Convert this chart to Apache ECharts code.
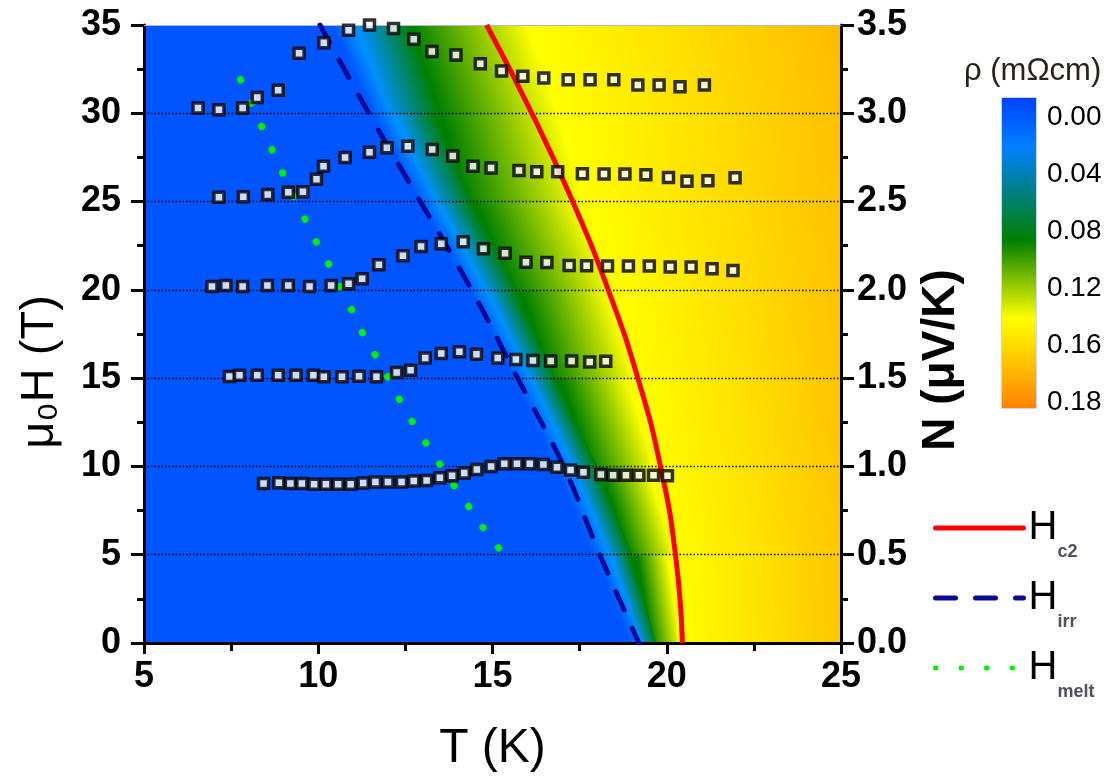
<!DOCTYPE html>
<html><head><meta charset="utf-8">
<script src="https://cdn.jsdelivr.net/npm/echarts@6/dist/echarts.min.js"></script>
<style>html,body{margin:0;padding:0;background:#fff}#chart{width:1114px;height:778px}</style>
</head><body><div id="chart"></div>
<script>
// ---------- resistivity colour map: iso-resistivity temperatures per field row ----------
const fieldRows     = [0, 5, 10, 15, 20, 25, 30, 35];            // μ0H (T)
const rhoIsoLevels  = [0.0, 0.02, 0.08, 0.13];                  // ρ (mΩcm)
const isoT_rho000   = [19.0, 17.9, 16.8, 15.6, 14.3, 12.9, 11.55, 10.4];
const isoT_rho002   = [19.3, 18.35, 17.3, 16.1, 14.8, 13.4, 12.1, 11.0];
const isoT_rho008   = [19.7, 19.0, 18.0, 16.8, 15.7, 14.4, 13.4, 12.75];
const isoT_rho013   = [20.3, 20.15, 19.55, 19.0, 18.4, 17.5, 17.0, 15.9];
const rhoAtT25      = [0.157, 0.157, 0.157, 0.158, 0.158, 0.159, 0.160, 0.162];

// colour scale (ρ -> colour) and colour bar
const colorScaleRho = [0, 0.02, 0.08, 0.13, 0.16, 0.18];
const colorScaleHex = ['#0055ff', '#0090ff', '#008000', '#ffff00', '#ffc000', '#ff8000'];
const colorbarTickLabels = ['0.00', '0.04', '0.08', '0.12', '0.16', '0.18'];
const colorbarOffsets = [0, 0.16, 0.46, 0.71, 0.86, 1];
const colorbarHex = ['#0040ff', '#0080ff', '#008000', '#ffff00', '#ffc000', '#ff8000'];

// ---------- critical field lines (T, μ0H) ----------
const hc2Curve   = [[14.83, 35], [16.13, 30], [17.3, 25], [18.32, 20], [19.17, 15], [19.82, 10], [20.25, 5], [20.45, 0]];
const hirrCurve  = [[10.05, 35], [11.45, 30], [12.87, 25.2], [14.4, 20], [15.72, 15], [17.04, 10], [18.08, 5], [19.2, 0]];
const hmeltCurve = [[7.77, 31.9], [8.07, 30.6], [8.39, 29.2], [8.68, 27.9], [9.03, 26.4], [9.34, 25.1], [9.67, 23.8],
                    [10.0, 22.5], [10.37, 21.2], [10.73, 19.8], [11.07, 18.4], [11.41, 17.0], [11.8, 15.8], [12.19, 14.3],
                    [12.6, 12.85], [13.0, 11.6], [13.43, 10.3], [13.9, 8.9], [14.4, 7.5], [14.85, 6.2], [15.37, 4.9]];

// ---------- Nernst signal N (μV/K) vs T (K) ----------
const tempRow1 = [8.43,8.87,9.20,9.53,9.88,10.22,10.57,10.93,11.29,11.64,12.0,12.39,12.74,13.11,13.49,13.84,14.19,14.55,14.96,15.34,15.70,16.07,16.46,16.85,17.24,17.61,18.11,18.46,18.83,19.2,19.62,20.02];
const nRow1    = [0.903,0.908,0.903,0.903,0.899,0.899,0.899,0.899,0.906,0.912,0.912,0.912,0.917,0.921,0.936,0.947,0.963,0.983,1.0,1.015,1.015,1.015,1.011,0.996,0.980,0.967,0.954,0.950,0.950,0.950,0.950,0.947];
const tempRow2 = [7.45,7.74,8.25,8.85,9.36,9.86,10.16,10.68,11.17,11.67,12.25,12.65,13.07,13.53,14.05,14.54,15.15,15.67,16.16,16.67,17.27,17.79,18.25];
const nRow2    = [1.509,1.517,1.517,1.517,1.517,1.517,1.508,1.508,1.511,1.508,1.532,1.545,1.614,1.640,1.650,1.636,1.614,1.606,1.600,1.597,1.597,1.591,1.595];
const tempRow3 = [6.95,7.35,7.83,8.54,9.14,9.75,10.37,10.87,11.26,11.74,12.43,12.95,13.53,14.16,14.74,15.36,15.96,16.56,17.2,17.7,18.3,18.9,19.5,20.1,20.7,21.3,21.9];
const nRow3    = [2.019,2.025,2.019,2.025,2.025,2.019,2.025,2.034,2.063,2.142,2.193,2.246,2.261,2.273,2.233,2.208,2.157,2.155,2.138,2.137,2.135,2.135,2.135,2.13,2.13,2.12,2.11];
const tempRow4 = [7.15,7.85,8.55,9.14,9.56,9.95,10.15,10.77,11.47,11.97,12.57,13.27,13.86,14.44,14.96,15.76,16.27,16.87,17.58,18.2,18.8,19.4,20.05,20.58,21.18,21.96];
const nRow4    = [2.525,2.527,2.54,2.553,2.555,2.627,2.70,2.75,2.78,2.805,2.814,2.795,2.758,2.70,2.69,2.676,2.669,2.669,2.658,2.656,2.656,2.652,2.637,2.615,2.618,2.635];
const tempRow5 = [6.55,7.15,7.83,8.25,8.85,9.45,10.16,10.87,11.47,12.16,12.74,13.26,13.95,14.65,15.26,15.87,16.47,17.17,17.8,18.48,19.17,19.78,20.38,21.08];
const nRow5    = [3.03,3.02,3.03,3.09,3.13,3.34,3.40,3.47,3.50,3.48,3.42,3.35,3.33,3.28,3.24,3.21,3.20,3.19,3.19,3.19,3.16,3.16,3.15,3.16];

const xTicks = {min: 5, max: 25, interval: 5};
const yTicks = {min: 0, max: 35, interval: 5};
const nTicks = {min: 0, max: 3.5, interval: 0.5};

// ---------- helpers ----------
function hexToRgb(h) { const v = parseInt(h.slice(1), 16); return [(v >> 16) & 255, (v >> 8) & 255, v & 255]; }
function rhoColor(r) {
  let i = 0;
  while (i < colorScaleRho.length - 2 && r > colorScaleRho[i + 1]) i++;
  const t = Math.max(0, Math.min(1, (r - colorScaleRho[i]) / (colorScaleRho[i + 1] - colorScaleRho[i])));
  const a = hexToRgb(colorScaleHex[i]), b = hexToRgb(colorScaleHex[i + 1]);
  return 'rgb(' + a.map((c, k) => Math.round(c + (b[k] - c) * t)).join(',') + ')';
}
const isoLines = [isoT_rho000, isoT_rho002, isoT_rho008, isoT_rho013];
const fieldItems = [[0, -1]];
for (let k = 0; k < isoLines.length; k++) for (let j = 0; j < fieldRows.length - 1; j++) fieldItems.push([j, k]);

function renderField(params, api) {
  const j = api.value(0), k = api.value(1);
  if (k < 0) {
    const a = api.coord([xTicks.min, yTicks.min]), b = api.coord([xTicks.max, yTicks.max]);
    return {type: 'rect', shape: {x: a[0], y: b[1], width: b[0] - a[0], height: a[1] - b[1]}, style: {fill: rhoColor(rhoIsoLevels[0])}};
  }
  const h0 = fieldRows[j], h1 = fieldRows[j + 1];
  const A = api.coord([isoLines[k][j], h0]), B = api.coord([isoLines[k][j + 1], h1]);
  let C, D, rhoEnd;
  if (k + 1 < isoLines.length) {
    C = api.coord([isoLines[k + 1][j], h0]); D = api.coord([isoLines[k + 1][j + 1], h1]); rhoEnd = rhoIsoLevels[k + 1];
  } else {
    C = api.coord([xTicks.max, h0]); D = api.coord([xTicks.max, h1]); rhoEnd = (rhoAtT25[j] + rhoAtT25[j + 1]) / 2;
  }
  const E = api.coord([xTicks.max, h0]), F = api.coord([xTicks.max, h1]);
  let ux = B[0] - A[0], uy = B[1] - A[1]; const lu = Math.hypot(ux, uy); ux /= lu; uy /= lu;
  let vx = D[0] - C[0], vy = D[1] - C[1]; const lv = Math.hypot(vx, vy); vx /= lv; vy /= lv;
  let wx = ux + vx, wy = uy + vy; const lw = Math.hypot(wx, wy); wx /= lw; wy /= lw;
  let nx = -wy, ny = wx;
  const PL = [(A[0] + B[0]) / 2, (A[1] + B[1]) / 2], PR = [(C[0] + D[0]) / 2, (C[1] + D[1]) / 2];
  let d = (PR[0] - PL[0]) * nx + (PR[1] - PL[1]) * ny;
  if (d < 0) { nx = -nx; ny = -ny; d = -d; }
  d = Math.max(d, 1);
  const ov = 1.2;
  const pts = [[A[0] - ux * ov, A[1] - uy * ov], [B[0] + ux * ov, B[1] + uy * ov], [F[0] + 1, F[1] - ov], [E[0] + 1, E[1] + ov]];
  const grad = new echarts.graphic.LinearGradient(PL[0], PL[1], PL[0] + nx * d, PL[1] + ny * d,
    [{offset: 0, color: rhoColor(rhoIsoLevels[k])}, {offset: 1, color: rhoColor(rhoEnd)}], true);
  return {type: 'polygon', shape: {points: pts}, style: {fill: grad}};
}

const zip = (xs, ys) => xs.map((x, i) => [x, ys[i]]);
const nRows = [[tempRow1, nRow1], [tempRow2, nRow2], [tempRow3, nRow3], [tempRow4, nRow4], [tempRow5, nRow5]];

const FONT = "'Liberation Sans', Arial, sans-serif";
const axisLineStyle = {color: '#000', width: 3};
const tickStyle = {width: 3, color: '#000'};
const legendText = {Hc2: '{h|H}{s|c2}', Hirr: '{h|H}{s|irr}', Hmelt: '{h|H}{s|melt}'};

const chart = echarts.init(document.getElementById('chart'), null, {renderer: 'canvas'});
const option = {
  animation: false,
  backgroundColor: '#fff',
  textStyle: {fontFamily: FONT},
  title: {text: 'ρ (mΩcm)', left: 964, top: 56, padding: 0,
    textStyle: {fontSize: 31, fontWeight: 'normal', color: '#2a2218', fontFamily: FONT}},
  legend: {
    data: ['Hc2', 'Hirr', 'Hmelt'], orient: 'vertical', left: 933, top: 508,
    itemWidth: 88, itemHeight: 14, itemGap: 17, selectedMode: false, padding: 0,
    itemStyle: {opacity: 0},
    lineStyle: {width: 5, cap: 'round'},
    formatter: name => legendText[name],
    textStyle: {rich: {
      h: {fontSize: 40, color: '#000', fontFamily: FONT, lineHeight: 38, verticalAlign: 'middle'},
      s: {fontSize: 18, color: '#505060', fontWeight: 'bold', fontFamily: FONT, lineHeight: 20, verticalAlign: 'bottom', padding: [0, 0, -14, 0]}
    }}
  },
  grid: [
    {left: 144, top: 25, width: 697, height: 618, outerBoundsMode: 'none'},
    {left: 1001, top: 97, width: 36, height: 312, outerBoundsMode: 'none'},
    {left: 1001, top: 117, width: 36, height: 285, outerBoundsMode: 'none'}
  ],
  xAxis: [
    {gridIndex: 0, type: 'value', min: xTicks.min, max: xTicks.max, interval: xTicks.interval, position: 'bottom', z: 2,
      axisLine: {show: true, onZero: false, lineStyle: axisLineStyle},
      axisTick: {show: true, inside: false, length: 11, lineStyle: tickStyle},
      minorTick: {show: true, splitNumber: 2, length: 8, lineStyle: tickStyle},
      axisLabel: {fontSize: 36, fontWeight: 'bold', color: '#000', margin: 16, fontFamily: FONT},
      splitLine: {show: false},
      name: 'T (K)', nameLocation: 'middle', nameGap: 82,
      nameTextStyle: {fontSize: 48, color: '#000', fontFamily: FONT}},
    {gridIndex: 0, type: 'value', min: xTicks.min, max: xTicks.max, position: 'top', z: 2,
      axisLine: {show: true, onZero: false, lineStyle: {color: '#b8b8b8', width: 1}},
      axisTick: {show: false}, axisLabel: {show: false}, splitLine: {show: false}},
    {gridIndex: 1, type: 'category', data: ['ρ'], show: false},
    {gridIndex: 2, type: 'value', show: false}
  ],
  yAxis: [
    {gridIndex: 0, type: 'value', min: yTicks.min, max: yTicks.max, interval: yTicks.interval, position: 'left', z: 2,
      axisLine: {show: true, onZero: false, lineStyle: axisLineStyle},
      axisTick: {show: true, inside: false, length: 13, lineStyle: tickStyle},
      minorTick: {show: true, splitNumber: 2, length: 7, lineStyle: tickStyle},
      axisLabel: {fontSize: 36, fontWeight: 'bold', color: '#000', margin: 23, fontFamily: FONT},
      splitLine: {show: true, showMinLine: false, showMaxLine: false, lineStyle: {color: '#000', width: 1.4, type: [1.5, 2]}},
      name: 'μ₀H (T)', nameLocation: 'middle', nameGap: 80, nameRotate: 90,
      nameTextStyle: {fontSize: 47, color: '#000', fontFamily: FONT, padding: [0, 76, 0, 0]}},
    {gridIndex: 0, type: 'value', min: nTicks.min, max: nTicks.max, interval: nTicks.interval, position: 'right', z: 2,
      axisLine: {show: true, onZero: false, lineStyle: axisLineStyle},
      axisTick: {show: true, inside: false, length: 13, lineStyle: tickStyle},
      minorTick: {show: true, splitNumber: 2, length: 7, lineStyle: tickStyle},
      axisLabel: {fontSize: 36, fontWeight: 'bold', color: '#000', margin: 16, fontFamily: FONT, formatter: v => v.toFixed(1)},
      splitLine: {show: false},
      name: 'N (μV/K)', nameLocation: 'middle', nameGap: 70, nameRotate: 90,
      nameTextStyle: {fontSize: 46, fontWeight: 'bold', color: '#000', fontFamily: FONT, padding: [0, 52, 0, 0]}},
    {gridIndex: 1, type: 'value', min: 0, max: 1, show: false},
    {gridIndex: 2, type: 'category', data: colorbarTickLabels, inverse: true, boundaryGap: false, position: 'right',
      axisLine: {show: false}, axisTick: {show: false}, splitLine: {show: false},
      axisLabel: {fontSize: 28, color: '#000', margin: 10, fontFamily: FONT}}
  ],
  series: [
    {type: 'custom', name: 'rho', xAxisIndex: 0, yAxisIndex: 0, renderItem: renderField, data: fieldItems,
      clip: true, silent: true, z: 1},
    {type: 'bar', name: 'colorbar', xAxisIndex: 2, yAxisIndex: 2, data: [1], barWidth: '100%', silent: true, z: 1,
      itemStyle: {borderColor: '#c8d8f0', borderWidth: 1,
        color: new echarts.graphic.LinearGradient(0, 0, 0, 1, colorbarOffsets.map((o, i) => ({offset: o, color: colorbarHex[i]})))}},
    {type: 'scatter', name: 'cbLabels', xAxisIndex: 3, yAxisIndex: 3, data: [], silent: true},
    {type: 'line', name: 'Hc2', xAxisIndex: 0, yAxisIndex: 0, data: hc2Curve, smooth: 0.5, symbol: 'none', showSymbol: false,
      lineStyle: {color: '#ff0000', width: 5}, itemStyle: {color: '#ff0000'}, z: 3, silent: true},
    {type: 'line', name: 'Hirr', xAxisIndex: 0, yAxisIndex: 0, data: hirrCurve, smooth: 0.4, symbol: 'none', showSymbol: false,
      lineStyle: {color: '#0a0a96', width: 5, type: [20, 20], cap: 'round'}, itemStyle: {color: '#0a0a96'}, z: 3, silent: true},
    {type: 'line', name: 'Hmelt', xAxisIndex: 0, yAxisIndex: 0, data: hmeltCurve, smooth: 0.2, symbol: 'none', showSymbol: false,
      lineStyle: {color: '#00f000', width: 7, type: [0.5, 25], cap: 'round'}, itemStyle: {color: '#00f000'}, z: 3, silent: true}
  ].concat(nRows.map((r, i) => ({
    type: 'scatter', name: 'N' + (i + 1), xAxisIndex: 0, yAxisIndex: 1, data: zip(r[0], r[1]),
    symbol: 'rect', symbolSize: 10, z: 4, silent: true,
    itemStyle: {color: '#fff', borderColor: '#000', borderWidth: 3.5}
  })))
};
chart.setOption(option);
</script></body></html>
